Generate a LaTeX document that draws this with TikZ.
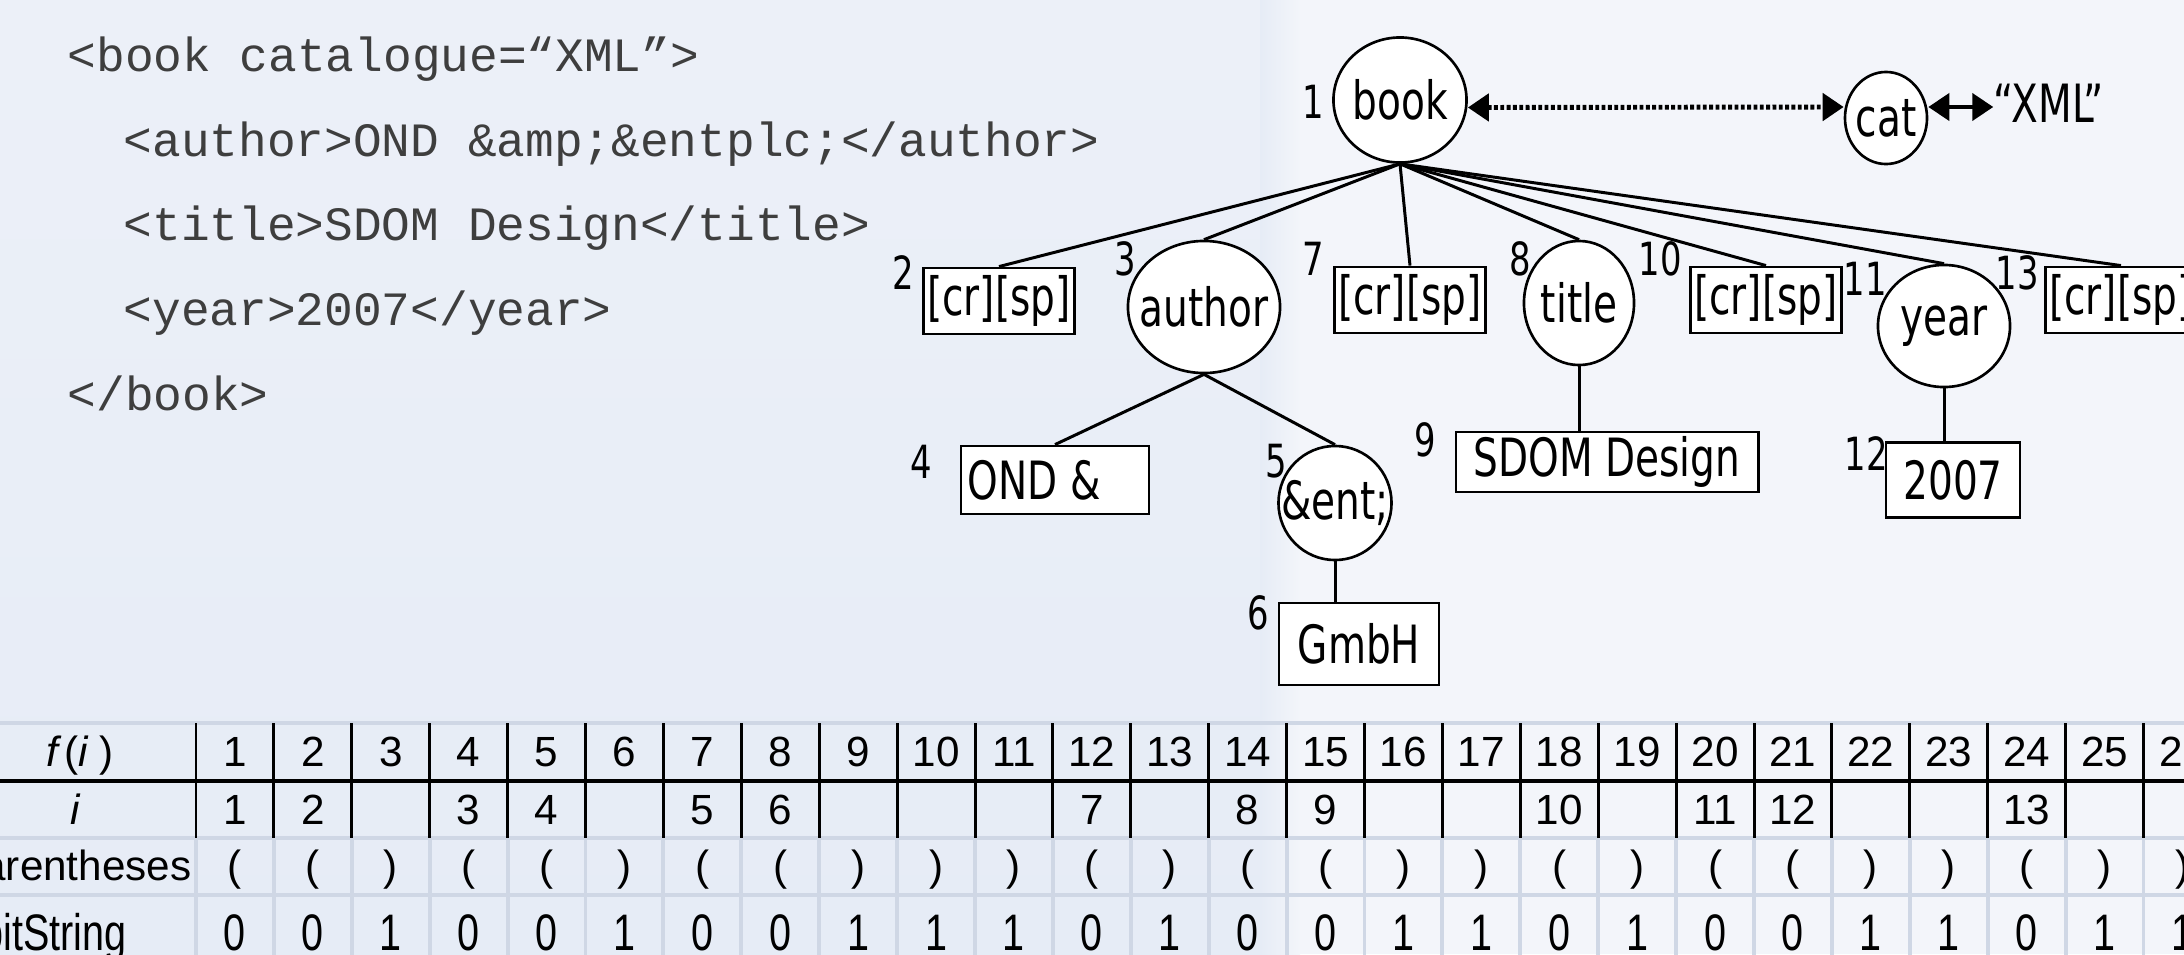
\documentclass[tikz,border=0pt]{standalone}
\usepackage{fontspec}
\usetikzlibrary{shapes.geometric,arrows.meta}

\newfontfamily\treefont[FakeStretch=0.74]{DejaVu Sans}
\newfontfamily\codefont{Liberation Mono}
\newfontfamily\tabfont{Liberation Sans}
\newfontfamily\bitfont[FakeStretch=0.77]{Liberation Sans}

\definecolor{bgleft}{RGB}{230,236,246}
\definecolor{bgtop}{RGB}{236,240,248}
\definecolor{bgright}{RGB}{243,245,250}
\definecolor{gridline}{RGB}{207,215,229}
\definecolor{codegray}{RGB}{62,62,62}

\newcommand{\elname}[1]{\makebox[0pt]{#1}}

\tikzset{
  elem/.style={draw, ellipse, fill=white, line width=0.75pt, inner sep=0pt,
    font=\treefont\fontsize{15}{15}\selectfont},
  txt/.style={draw, rectangle, fill=white, line width=0.8pt, inner sep=0pt,
    font=\treefont\fontsize{15}{15}\selectfont},
  crsp/.style={txt, minimum width=1.51cm, minimum height=0.66cm},
  num/.style={inner sep=0pt, font=\treefont\fontsize{13}{13}\selectfont},
  edge/.style={line width=0.85pt},
  code/.style={anchor=base west, inner sep=0pt, text=codegray,
    font=\codefont\fontsize{13.6}{13.6}\selectfont},
  cell/.style={anchor=base, inner sep=0pt, font=\tabfont\fontsize{12}{12}\selectfont},
  bit/.style={cell, font=\bitfont\fontsize{14.6}{14.6}\selectfont},
}

\begin{document}
\begin{tikzpicture}[x=0.01cm, y=-0.01cm, >={Triangle[length=0.21cm,width=0.27cm]}]

\useasboundingbox (0,0) rectangle (2184,954);
\clip (0,0) rectangle (2184,954);

% background
\fill[bgright] (0,0) rectangle (2184,954);
\shade[top color=bgtop, bottom color=bgleft] (0,0) rectangle (1262,954);
\shade[left color=bgleft, right color=bgright] (1260,0) rectangle (1300,954);

% source text
\node[code] (src1) at (67,71) {<book catalogue=“XML”>};
\node[code] (src2) at (123,156) {<author>OND \&amp;\&entplc;</author>};
\node[code] (src3) at (123,240) {<title>SDOM Design</title>};
\node[code] (src4) at (123,325) {<year>2007</year>};
\node[code] (src5) at (67,410) {</book>};

% root and its attribute
\node[elem, minimum width=1.33cm, minimum height=1.25cm] (book) at (1400,100) {\elname{book}};
\node[elem, minimum width=0.82cm, minimum height=0.92cm] (cat) at (1886,118) {\elname{cat}};
\node[inner sep=0pt, font=\treefont\fontsize{15}{15}\selectfont] (xml) at (2049,103) {“XML”};

\draw[<->, line width=1.4pt, dash pattern=on 1.1pt off 0.7pt] ([yshift=-0.075cm]book.east) -- ([yshift=0.11cm]cat.west);
\coordinate (catr) at ([yshift=0.11cm]cat.east);
\draw[<->, line width=1.2pt] (catr) -- (catr -| xml.west);

% children of book
\node[crsp] (c2) at (999,301) {[cr][sp]};
\node[elem, minimum width=1.52cm, minimum height=1.32cm] (author) at (1204,307) {\elname{author}};
\node[crsp] (c7) at (1410,300) {[cr][sp]};
\node[elem, minimum width=1.10cm, minimum height=1.24cm] (title) at (1579,303) {\elname{title}};
\node[crsp] (c10) at (1766,300) {[cr][sp]};
\node[elem, minimum width=1.32cm, minimum height=1.22cm] (year) at (1944,326) {\elname{year}};
\node[crsp] (c13) at (2121,300) {[cr][sp]};

\foreach \c in {c2,author,c7,title,c10,year,c13}
  \draw[edge] (book.south) -- (\c.north);

% text and entity leaves
\node[txt, minimum width=1.88cm, minimum height=0.68cm] (ond) at (1055,480) {\makebox[1.74cm][l]{OND \&}};
\node[elem, minimum width=1.13cm, minimum height=1.14cm] (ent) at (1335,503) {\elname{\&ent;}};
\node[txt, minimum width=1.60cm, minimum height=0.82cm] (gmbh) at (1359,644) {GmbH};
\node[txt, minimum width=3.02cm, minimum height=0.60cm] (sdom) at (1607,462) {SDOM Design};
\node[txt, minimum width=1.34cm, minimum height=0.75cm] (y2007) at (1953,480) {2007};

\draw[edge] (author.south) -- (ond.north);
\draw[edge] (author.south) -- (ent.north);
\draw[edge] (ent.south) -- (ent.south |- gmbh.north);
\draw[edge] (title.south) -- (title.south |- sdom.north);
\draw[edge] (year.south) -- (year.south |- y2007.north);

% node numbers
\node[num] (n1) at (1313,102) {1};
\node[num] (n2) at (903,273) {2};
\node[num] (n3) at (1125,259) {3};
\node[num] (n4) at (921,462) {4};
\node[num] (n5) at (1276,461) {5};
\node[num] (n6) at (1258,613) {6};
\node[num] (n7) at (1313,259) {7};
\node[num] (n8) at (1520,259) {8};
\node[num] (n9) at (1425,440) {9};
\node[num] (n10) at (1660,259) {10};
\node[num] (n11) at (1865,279) {11};
\node[num] (n12) at (1866,454) {12};
\node[num] (n13) at (2017,273) {13};

% table
\foreach \y in {723,838,895}
  \draw[gridline, line width=1.1pt] (0,\y) -- (2184,\y);
\foreach \k in {0,...,26} {
  \draw[gridline, line width=1.1pt] (196+77.9*\k,838) -- (196+77.9*\k,960);
  \draw[line width=0.85pt] (196+77.9*\k,723) -- (196+77.9*\k,838);
}
\draw[line width=1.4pt] (0,781) -- (2184,781);

\node[cell] (hf) at (80,766) {{\itshape f}\,({\itshape i}\;)};
\node[cell] (hi) at (75,824) {\itshape i};
\node[cell, anchor=base east] (hp) at (192,880) {Parentheses};
\node[bit, anchor=base east] (hb) at (127,950) {bitString};

\foreach \k in {1,...,26}
  \node[cell] (f\k) at (157.05+77.9*\k,766) {\k};
\foreach \k/\v in {1/1,2/2,4/3,5/4,7/5,8/6,12/7,14/8,15/9,18/10,20/11,21/12,24/13}
  \node[cell] (i\k) at (157.05+77.9*\k,824) {\v};
\foreach \b [count=\k] in {0,0,1,0,0,1,0,0,1,1,1,0,1,0,0,1,1,0,1,0,0,1,1,0,1,1} {
  \node[cell] (p\k) at (157.05+77.9*\k,880) {\ifnum\b=0 (\else )\fi};
  \node[bit] (b\k) at (157.05+77.9*\k,950) {\b};
}

\end{tikzpicture}
\end{document}
